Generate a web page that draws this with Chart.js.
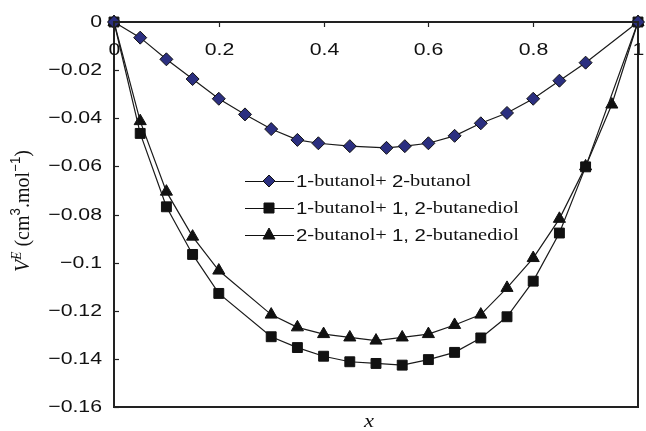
<!DOCTYPE html>
<html>
<head>
<meta charset="utf-8">
<script src="https://cdn.jsdelivr.net/npm/chart.js@4/dist/chart.umd.min.js"></script>
<style>
  body { margin: 0; background: #fff; }
  #wrap { width: 646px; height: 431px; }
</style>
</head>
<body>
<div id="wrap"><canvas id="chart" width="646" height="431"></canvas></div>
<script>
// values
var xButanols = [0, 0.05, 0.1, 0.15, 0.2, 0.25, 0.3, 0.35, 0.39, 0.45, 0.52, 0.555, 0.6, 0.65, 0.7, 0.75, 0.8, 0.85, 0.9, 1];
var vButanols = [0, -0.0065, -0.0155, -0.0237, -0.0319, -0.0384, -0.0445, -0.049, -0.0504, -0.0516, -0.0523, -0.0516, -0.0504, -0.0473, -0.0421, -0.0378, -0.0319, -0.0244, -0.0169, 0];

var x1Diol = [0, 0.05, 0.1, 0.15, 0.2, 0.3, 0.35, 0.4, 0.45, 0.5, 0.55, 0.6, 0.65, 0.7, 0.75, 0.8, 0.85, 0.9, 1];
var v1Diol = [0, -0.0463, -0.0768, -0.0966, -0.1128, -0.1308, -0.1353, -0.1389, -0.1412, -0.1419, -0.1426, -0.1403, -0.1373, -0.1313, -0.1225, -0.1077, -0.0877, -0.0602, 0];

var x2Diol = [0, 0.05, 0.1, 0.15, 0.2, 0.3, 0.35, 0.4, 0.45, 0.5, 0.55, 0.6, 0.65, 0.7, 0.75, 0.8, 0.85, 0.9, 0.95, 1];
var v2Diol = [0, -0.0412, -0.0705, -0.0892, -0.1033, -0.1216, -0.1269, -0.1297, -0.1311, -0.1324, -0.1311, -0.1297, -0.1259, -0.1216, -0.1105, -0.0981, -0.0818, -0.0600, -0.0343, 0];

var xTicks = [0, 0.2, 0.4, 0.6, 0.8, 1];
var yTicks = [0, -0.02, -0.04, -0.06, -0.08, -0.1, -0.12, -0.14, -0.16];

var SANS = '"Liberation Sans", Arial, sans-serif';
var SERIF = '"Liberation Serif", "Times New Roman", serif';
var STRETCH = 1.25; // the picture's text is wider than normal

function pairs(xs, ys) {
  var out = [];
  for (var i = 0; i < xs.length; ++i) out.push({ x: xs[i], y: ys[i] });
  return out;
}

function fmt(v) {
  if (v === 0) return '0';
  var s = String(Math.abs(Math.round(v * 100) / 100));
  return v < 0 ? '\u2212' + s : s;
}

// draws text stretched horizontally, returns width used
function wideText(ctx, s, x, y, align, font, sx) {
  ctx.save();
  ctx.font = font;
  var w = ctx.measureText(s).width * sx;
  var left = x;
  if (align === 'center') left = x - w / 2;
  if (align === 'right') left = x - w;
  ctx.translate(left, y);
  ctx.scale(sx, 1);
  ctx.textAlign = 'left';
  ctx.fillText(s, 0, 0);
  ctx.restore();
  return w;
}

function marker(ctx, style, x, y) {
  ctx.save();
  ctx.lineWidth = 1;
  ctx.strokeStyle = '#111';
  ctx.beginPath();
  if (style === 'rectRot') {
    ctx.fillStyle = '#2B2F80';
    ctx.moveTo(x - 6, y); ctx.lineTo(x, y - 6); ctx.lineTo(x + 6, y); ctx.lineTo(x, y + 6);
  } else if (style === 'rect') {
    ctx.fillStyle = '#111';
    ctx.rect(x - 5, y - 5, 10, 10);
  } else {
    ctx.fillStyle = '#111';
    ctx.moveTo(x, y - 7); ctx.lineTo(x + 6, y + 4); ctx.lineTo(x - 6, y + 4);
  }
  ctx.closePath();
  ctx.fill();
  ctx.stroke();
  ctx.restore();
}

var legendRows = [
  { style: 'rectRot', parts: [['1', 's'], ['-butanol', 'r'], ['+ ', 'r'], ['2', 's'], ['-butanol', 'r']] },
  { style: 'rect', parts: [['1', 's'], ['-butanol', 'r'], ['+ ', 'r'], ['1, 2', 's'], ['-butanediol', 'r']] },
  { style: 'triangle', parts: [['2', 's'], ['-butanol', 'r'], ['+ ', 'r'], ['1, 2', 's'], ['-butanediol', 'r']] }
];

var framePlugin = {
  id: 'frame',
  afterDraw: function (chart) {
    var ctx = chart.ctx;
    var a = chart.chartArea;
    var xs = chart.scales.x, ys = chart.scales.y;
    ctx.save();
    ctx.strokeStyle = '#222';
    ctx.lineWidth = 2;
    ctx.strokeRect(a.left, a.top, a.right - a.left, a.bottom - a.top);

    ctx.lineWidth = 1.2;
    ctx.fillStyle = '#111';
    ctx.textBaseline = 'middle';
    xTicks.forEach(function (v) {
      var px = Math.round(xs.getPixelForValue(v)) + 0.5;
      ctx.beginPath(); ctx.moveTo(px, a.top); ctx.lineTo(px, a.top + 5); ctx.stroke();
      wideText(ctx, fmt(v), px, a.top + 28, 'center', '17px ' + SANS, STRETCH);
    });
    yTicks.forEach(function (v) {
      var py = Math.round(ys.getPixelForValue(v)) + 0.5;
      ctx.beginPath(); ctx.moveTo(a.left, py); ctx.lineTo(a.left + 5, py); ctx.stroke();
      wideText(ctx, fmt(v), a.left - 12, py, 'right', '17px ' + SANS, STRETCH);
    });

    // x axis title
    ctx.textBaseline = 'alphabetic';
    wideText(ctx, 'x', 369, 427, 'center', 'italic 18px ' + SERIF, STRETCH);

    // y axis title, rotated
    var parts = [
      ['V', 'italic 18px ' + SERIF, 0],
      ['E', 'italic 12px ' + SERIF, -7],
      [' (cm', '18px ' + SERIF, 0],
      ['3', '12px ' + SANS, -8],
      ['.mol', '18px ' + SERIF, 0],
      ['\u22121', '12px ' + SANS, -8],
      [')', '18px ' + SERIF, 0]
    ];
    var total = 0;
    parts.forEach(function (p) { ctx.font = p[1]; total += ctx.measureText(p[0]).width; });
    var target = 122;
    ctx.save();
    ctx.translate(29, 211 + target / 2);
    ctx.rotate(-Math.PI / 2);
    ctx.scale(target / total, 1.15);
    var cx = 0;
    parts.forEach(function (p) {
      ctx.font = p[1];
      ctx.fillText(p[0], cx, p[2]);
      cx += ctx.measureText(p[0]).width;
    });
    ctx.restore();

    // legend
    var rowY = [181, 208, 235];
    legendRows.forEach(function (row, i) {
      var y = rowY[i];
      ctx.lineWidth = 1.2;
      ctx.strokeStyle = '#111';
      ctx.beginPath(); ctx.moveTo(245, y + 0.5); ctx.lineTo(294, y + 0.5); ctx.stroke();
      marker(ctx, row.style, 269, y);
      var tx = 296;
      ctx.textBaseline = 'middle';
      row.parts.forEach(function (p) {
        var f = p[1] === 's' ? '17px ' + SANS : '17px ' + SERIF;
        tx += wideText(ctx, p[0], tx, y + 1, 'left', f, 1.2);
      });
    });
    ctx.restore();
  }
};

var lineColor = '#1a1a1a';
var ctx = document.getElementById('chart').getContext('2d');
var chart = new Chart(ctx, {
  type: 'scatter',
  data: {
    datasets: [
      {
        label: '1-butanol+ 2-butanol',
        data: pairs(xButanols, vButanols),
        showLine: true,
        borderColor: lineColor,
        borderWidth: 1.2,
        pointStyle: 'rectRot',
        pointRadius: 6.5,
        pointBackgroundColor: '#2B2F80',
        pointBorderColor: '#111',
        pointBorderWidth: 1,
        clip: false
      },
      {
        label: '1-butanol+ 1, 2-butanediol',
        data: pairs(x1Diol, v1Diol),
        showLine: true,
        borderColor: lineColor,
        borderWidth: 1.2,
        pointStyle: 'rect',
        pointRadius: 7,
        pointBackgroundColor: '#111',
        pointBorderColor: '#111',
        pointBorderWidth: 1,
        clip: false
      },
      {
        label: '2-butanol+ 1, 2-butanediol',
        data: pairs(x2Diol, v2Diol),
        showLine: true,
        borderColor: lineColor,
        borderWidth: 1.2,
        pointStyle: 'triangle',
        pointRadius: 7,
        pointBackgroundColor: '#111',
        pointBorderColor: '#111',
        pointBorderWidth: 1,
        clip: false
      }
    ]
  },
  options: {
    responsive: false,
    animation: false,
    layout: { padding: { left: 114, top: 22, right: 2, bottom: 24 } },
    plugins: { legend: { display: false }, tooltip: { enabled: false } },
    scales: {
      x: { type: 'linear', min: 0, max: 1, display: false },
      y: { type: 'linear', min: -0.16, max: 0, display: false }
    }
  },
  plugins: [framePlugin]
});
</script>
</body>
</html>
